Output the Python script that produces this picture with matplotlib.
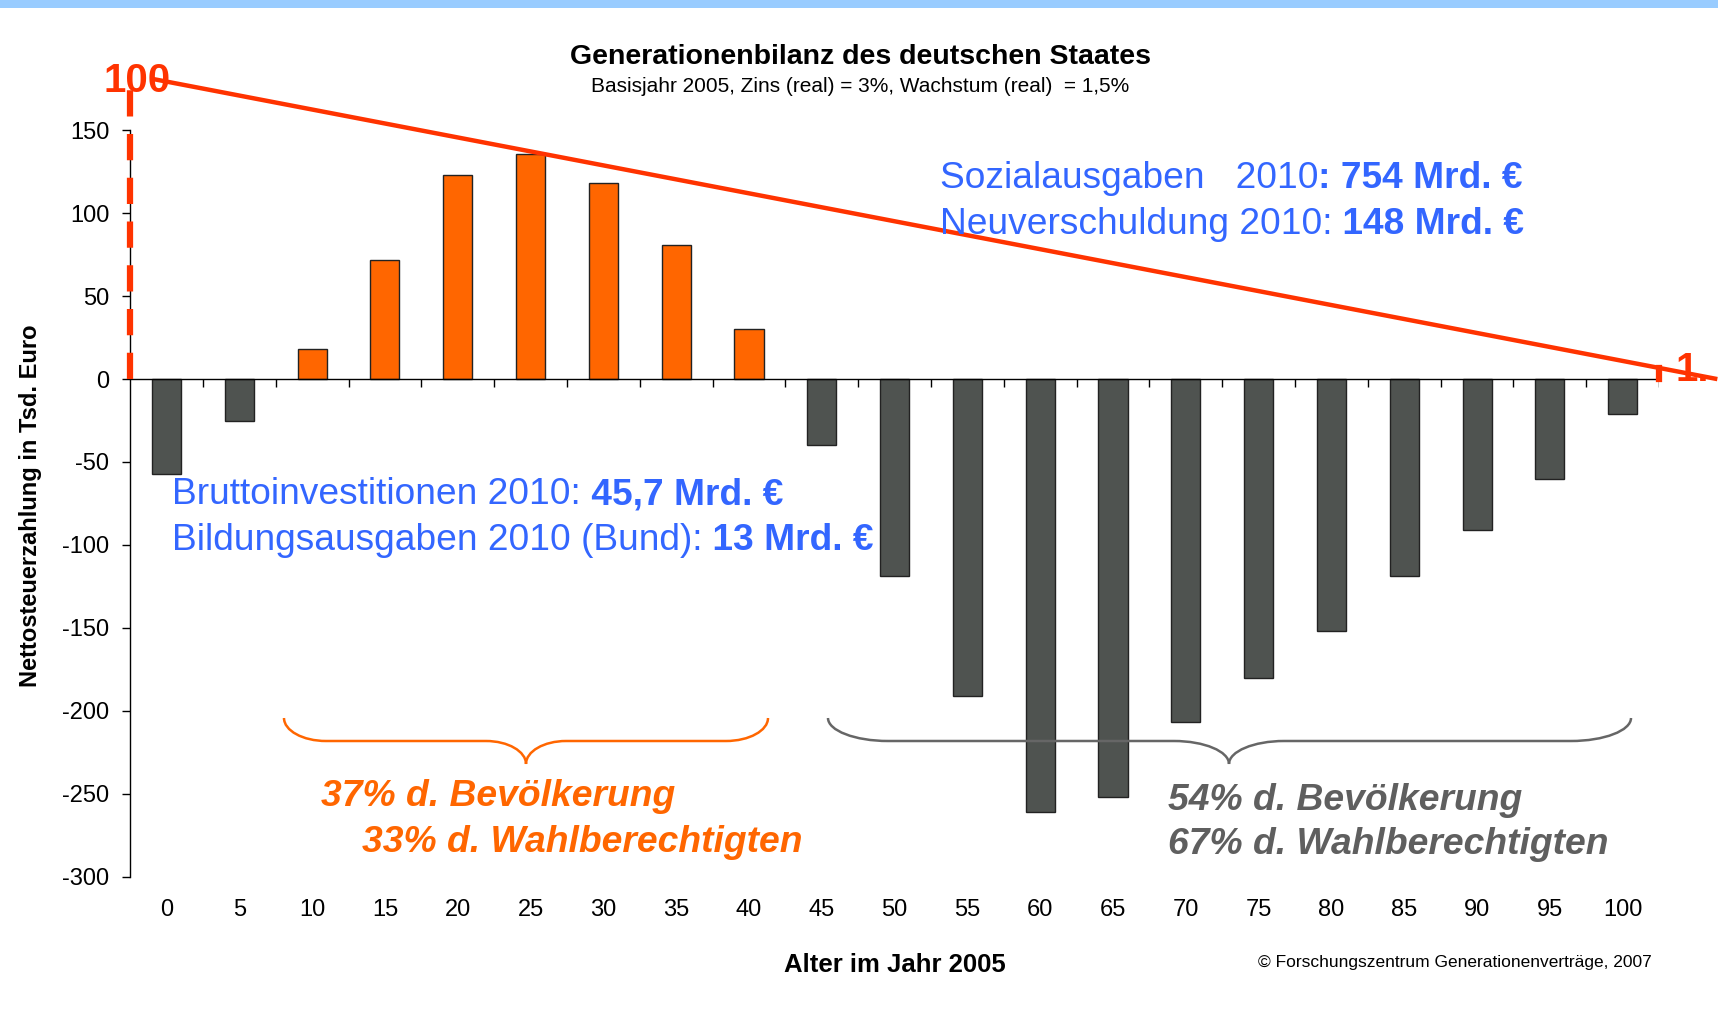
import numpy as np
import matplotlib
matplotlib.use("Agg")
import matplotlib.pyplot as plt
from matplotlib.path import Path
from matplotlib.patches import PathPatch, Rectangle
from matplotlib import font_manager

# ---------------- data ----------------
ages = [0, 5, 10, 15, 20, 25, 30, 35, 40, 45, 50, 55, 60, 65, 70, 75, 80, 85, 90, 95, 100]
net_tax = [-57, -25, 18, 72, 123, 136, 118, 81, 30, -40, -119, -191, -261, -252,
           -207, -180, -152, -119, -91, -60, -21]
yticks = [150, 100, 50, 0, -50, -100, -150, -200, -250, -300]
trend_start = (-0.185, 181)   # red trend line (category index, value)
trend_end = (21.3, 0)

W, H = 1718, 1018
plt.rcParams['font.family'] = ['Liberation Sans', 'DejaVu Sans']
available = {f.name for f in font_manager.fontManager.ttflist}
NARROW = 'Liberation Sans Narrow' if 'Liberation Sans Narrow' in available else 'Liberation Sans'

ORANGE = '#FF6600'
GRAY_BAR = '#4F5350'
RED = '#FF3300'
BLUE = '#3366FF'
GRAY_TXT = '#5F5F5F'

fig = plt.figure(figsize=(W / 100, H / 100), dpi=100)
fig.patch.set_facecolor('white')

# top stripe
fig.add_artist(Rectangle((0, 1 - 8 / H), 1, 8 / H, transform=fig.transFigure,
                         facecolor='#99CCFF', edgecolor='none'))

# axes placement (pixels)
left_px, right_px = 130.1, 1659.1
top_px, bot_px = 130.4, 876.5
ax = fig.add_axes([left_px / W, 1 - bot_px / H, (right_px - left_px) / W, (bot_px - top_px) / H])
ax.set_facecolor('none')

x = np.arange(len(ages))
colors = [ORANGE if v > 0 else GRAY_BAR for v in net_tax]
ax.bar(x, net_tax, width=0.4, color=colors, edgecolor='#222222', linewidth=1.0, zorder=3)

ax.set_xlim(-0.5, 20.5)
ax.set_ylim(-300, 150)
for s in ['top', 'right', 'bottom']:
    ax.spines[s].set_visible(False)
ax.spines['left'].set_linewidth(1.0)
ax.set_yticks(yticks)
ax.set_yticklabels([str(v) for v in yticks])
ax.tick_params(axis='y', length=6, width=1, pad=9, labelsize=17)
ax.set_xticks(x)
ax.set_xticklabels([str(a) for a in ages])
ax.tick_params(axis='x', length=0, pad=16, labelsize=17)

# zero axis line with category boundary ticks
ax.axhline(0, color='black', lw=1.0, zorder=4)
ax.vlines(np.arange(0.5, 21, 1), -4.8, 0, color='black', lw=1.0, zorder=4)

# red trend line and dashed verticals
ax.plot([trend_start[0], trend_end[0]], [trend_start[1], trend_end[1]],
        color=RED, lw=3.2, clip_on=False, zorder=6, solid_capstyle='butt')
ax.plot([-0.5, -0.5], [0, trend_start[1]], color=RED, lw=4.5, dashes=(4.2, 2.8),
        clip_on=False, zorder=6)
slope = (trend_end[1] - trend_start[1]) / (trend_end[0] - trend_start[0])
y_at_end = trend_start[1] + slope * (20.5 - trend_start[0])
ax.plot([20.5, 20.5], [0, y_at_end], color=RED, lw=4.5, clip_on=False, zorder=6)

def ftxt(px, py, s, **kw):
    return fig.text(px / W, 1 - py / H, s, **kw)

ftxt(30.7, 506, 'Nettosteuerzahlung in Tsd. Euro', fontsize=17 if NARROW != 'Liberation Sans' else 17,
     fontweight='bold', family=NARROW, rotation=90, ha='center', va='center')

ftxt(860, 57, 'Generationenbilanz des deutschen Staates', fontsize=20.5, fontweight='bold',
     ha='center', va='center')
ftxt(860, 86, 'Basisjahr 2005, Zins (real) = 3%, Wachstum (real)  = 1,5%', fontsize=15,
     ha='center', va='center')
ftxt(895, 965, 'Alter im Jahr 2005', fontsize=18.5, fontweight='bold', ha='center', va='center')
ftxt(1652, 963, '© Forschungszentrum Generationenverträge, 2007', fontsize=12.5,
     ha='right', va='center')

ftxt(137, 81, '100', fontsize=29, fontweight='bold', color=RED, ha='center', va='center',
     family=NARROW, zorder=7)
ftxt(1676, 370, '1.', fontsize=29, fontweight='bold', color=RED, ha='left', va='center',
     family=NARROW, zorder=7)

renderer = fig.canvas.get_renderer()

def runs(px, py, parts, size, color):
    cur = px
    for s, w in parts:
        t = ftxt(cur, py, s, fontsize=size, fontweight=w, color=color, ha='left', va='center')
        bb = t.get_window_extent(renderer=renderer)
        cur = cur + bb.width

runs(940, 179, [('Sozialausgaben   2010', 'normal'), (': 754 Mrd. €', 'bold')], 26.7, BLUE)
runs(940, 225, [('Neuverschuldung 2010:', 'normal'), (' 148 Mrd. €', 'bold')], 26.7, BLUE)
runs(172, 495, [('Bruttoinvestitionen 2010:', 'normal'), (' 45,7 Mrd. €', 'bold')], 26.7, BLUE)
runs(172, 540, [('Bildungsausgaben 2010 (Bund):', 'normal'), (' 13 Mrd. €', 'bold')], 26.7, BLUE)

ftxt(321, 797, '37% d. Bevölkerung', fontsize=26.8, fontweight='bold', style='italic',
     color=ORANGE, ha='left', va='center')
ftxt(362, 842, '33% d. Wahlberechtigten', fontsize=26.8, fontweight='bold', style='italic',
     color=ORANGE, ha='left', va='center')
ftxt(1168, 801, '54% d. Bevölkerung', fontsize=26.8, fontweight='bold', style='italic',
     color=GRAY_TXT, ha='left', va='center')
ftxt(1168, 845, '67% d. Wahlberechtigten', fontsize=26.8, fontweight='bold', style='italic',
     color=GRAY_TXT, ha='left', va='center')

# curly braces (pixel coordinates, y from top)
def brace(xl, xr, xm, yt, yh, ytip, color, r=42, rm=40):
    k = 0.55
    pts = [(xl, yt),
           (xl, yt + k * (yh - yt)), (xl + r * (1 - k), yh), (xl + r, yh),
           (xm - rm, yh),
           (xm - rm * (1 - k), yh), (xm, ytip - k * (ytip - yh)), (xm, ytip),
           (xm, ytip - k * (ytip - yh)), (xm + rm * (1 - k), yh), (xm + rm, yh),
           (xr - r, yh),
           (xr - r * (1 - k), yh), (xr, yt + k * (yh - yt)), (xr, yt)]
    codes = [Path.MOVETO, Path.CURVE4, Path.CURVE4, Path.CURVE4, Path.LINETO,
             Path.CURVE4, Path.CURVE4, Path.CURVE4, Path.CURVE4, Path.CURVE4, Path.CURVE4,
             Path.LINETO, Path.CURVE4, Path.CURVE4, Path.CURVE4]
    verts = [(px / W, 1 - py / H) for px, py in pts]
    fig.add_artist(PathPatch(Path(verts, codes), transform=fig.transFigure, facecolor='none',
                             edgecolor=color, lw=1.8, zorder=8))

brace(284, 768, 526, 718, 741, 764, ORANGE)
brace(828, 1631, 1229, 718, 741, 764, '#666666', r=60, rm=55)

fig.savefig('out.png', dpi=100)
